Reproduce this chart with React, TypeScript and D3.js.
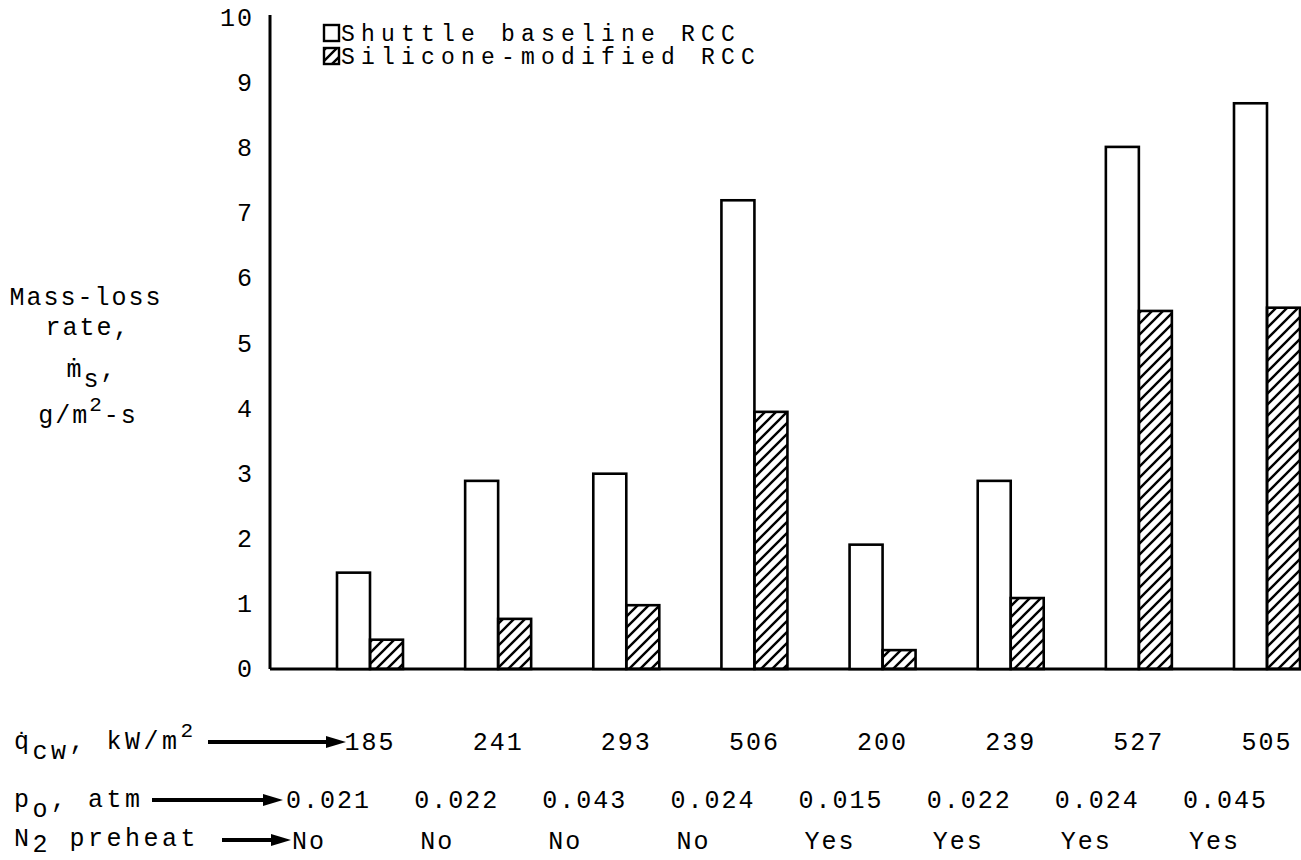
import React from "react";
import * as d3 from "d3";

const categories = ["c1", "c2", "c3", "c4", "c5", "c6", "c7", "c8"];
const shuttleValues = [1.48, 2.89, 3.0, 7.2, 1.91, 2.89, 8.02, 8.69];
const siliconeValues = [0.45, 0.77, 0.98, 3.95, 0.29, 1.09, 5.5, 5.55];
const heatFlux = ["185", "241", "293", "506", "200", "239", "527", "505"];
const pressure = ["0.021", "0.022", "0.043", "0.024", "0.015", "0.022", "0.024", "0.045"];
const preheat = ["No", "No", "No", "No", "Yes", "Yes", "Yes", "Yes"];
const yTicks = [0, 1, 2, 3, 4, 5, 6, 7, 8, 9, 10];
const legendLabels = ["Shuttle baseline RCC", "Silicone-modified RCC"];

const FONT = "'Liberation Mono', 'DejaVu Sans Mono', monospace";

export default function App() {
  const W = 1301, H = 860;
  const axisX = 270;
  const y = d3.scaleLinear().domain([0, 10]).range([669, 18]);
  const x = d3.scalePoint<string>().domain(categories).range([370, 1267]);
  const barW = 33;
  const fs = 25;
  const ls = 2;

  const arrow = (x1: number, x2: number, yy: number) => (
    <g>
      <line x1={x1} x2={x2 - 14} y1={yy} y2={yy} stroke="#000" strokeWidth={4} />
      <path d={`M${x2},${yy} L${x2 - 20},${yy - 6} L${x2 - 20},${yy + 6} Z`} fill="#000" />
    </g>
  );

  return (
    <svg width={W} height={H} style={{ position: "absolute", left: 0, top: 0, background: "#fff" }}
      fontFamily={FONT}>
      <defs>
        <pattern id="hatch" patternUnits="userSpaceOnUse" width={11} height={11}>
          <path d="M-2,13 L13,-2 M-4,4 L4,-4 M7,15 L15,7" stroke="#000" strokeWidth={2.4} />
        </pattern>
      </defs>
      <rect x={0} y={0} width={W} height={H} fill="#fff" />

      {/* axes */}
      <line x1={axisX} x2={axisX} y1={15} y2={y(0)} stroke="#000" strokeWidth={3} />
      <line x1={axisX} x2={W} y1={y(0)} y2={y(0)} stroke="#000" strokeWidth={3} />

      {yTicks.map((t) => (
        <text key={t} x={254} y={y(t) + 8} textAnchor="end" fontSize={fs} letterSpacing={ls}>
          {t}
        </text>
      ))}

      {/* bars */}
      {categories.map((c, i) => (
        <g key={c}>
          <rect x={(x(c) as number) - barW} y={y(shuttleValues[i])} width={barW}
            height={y(0) - y(shuttleValues[i])} fill="#fff" stroke="#000" strokeWidth={2.6} />
          <rect x={x(c) as number} y={y(siliconeValues[i])} width={barW}
            height={y(0) - y(siliconeValues[i])} fill="url(#hatch)" stroke="#000" strokeWidth={2.6} />
        </g>
      ))}

      {/* legend */}
      <rect x={324} y={25} width={15} height={16} fill="#fff" stroke="#000" strokeWidth={2.4} />
      <text x={341} y={41} fontSize={23} letterSpacing={6.2}>{legendLabels[0]}</text>
      <rect x={324} y={48} width={15} height={16} fill="url(#hatch)" stroke="#000" strokeWidth={2.4} />
      <text x={341} y={64} fontSize={23} letterSpacing={6.2}>{legendLabels[1]}</text>

      {/* y title */}
      <g fontSize={fs} letterSpacing={ls} textAnchor="middle">
        <text x={86} y={305}>Mass-loss</text>
        <text x={88} y={335}>rate,</text>
        <text x={92} y={377}>
          {"m\u0307"}
          <tspan dy={10}>s</tspan>
          <tspan dy={-10}>,</tspan>
        </text>
        <text x={88} y={423}>
          g/m
          <tspan dy={-12} fontSize={21}>2</tspan>
          <tspan dy={12}>-s</tspan>
        </text>
      </g>

      {/* bottom table */}
      <g fontSize={fs} letterSpacing={ls}>
        <text x={14} y={749} letterSpacing={3.5}>
          {"q\u0307"}
          <tspan dy={10}>cw</tspan>
          <tspan dy={-10}>, kW/m</tspan>
          <tspan dy={-12} fontSize={21}>2</tspan>
        </text>
        {arrow(208, 346, 742)}
        {categories.map((c, i) => (
          <text key={c} x={x(c) as number} y={750} textAnchor="middle">{heatFlux[i]}</text>
        ))}

        <text x={14} y={807} letterSpacing={3.5}>
          p<tspan dy={10}>o</tspan>
          <tspan dy={-10}>, atm</tspan>
        </text>
        {arrow(152, 283, 800)}
        {categories.map((c, i) => (
          <text key={c} x={(x(c) as number) - 84} y={808}>{pressure[i]}</text>
        ))}

        <text x={14} y={846} letterSpacing={3.5}>
          N<tspan dy={6}>2</tspan>
          <tspan dy={-6}> preheat</tspan>
        </text>
        {arrow(222, 291, 840)}
        {categories.map((c, i) => (
          <text key={c} x={(x(c) as number) - 78} y={849}>{preheat[i]}</text>
        ))}
      </g>
    </svg>
  );
}
